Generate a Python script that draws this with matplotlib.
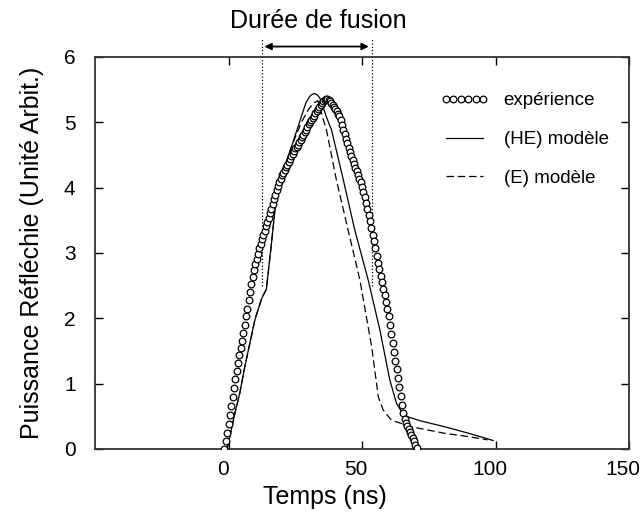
import matplotlib
matplotlib.use("Agg")
import matplotlib.pyplot as plt
import matplotlib.transforms as mtransforms

plt.rcParams["font.family"] = ["Liberation Sans", "DejaVu Sans"]

# experience (mesures, pas de 0.5 ns)
exp_t = [-1.5, -1.0, -0.5, 0.0, 0.5, 1.0, 1.5, 2.0, 2.5, 3.0,
         3.5, 4.0, 4.5, 5.0, 5.5, 6.0, 6.5, 7.0, 7.5, 8.0,
         8.5, 9.0, 9.5, 10.0, 10.5, 11.0, 11.5, 12.0, 12.5, 13.0,
         13.5, 14.0, 14.5, 15.0, 15.5, 16.0, 16.5, 17.0, 17.5, 18.0,
         18.5, 19.0, 19.5, 20.0, 20.5, 21.0, 21.5, 22.0, 22.5, 23.0,
         23.5, 24.0, 24.5, 25.0, 25.5, 26.0, 26.5, 27.0, 27.5, 28.0,
         28.5, 29.0, 29.5, 30.0, 30.5, 31.0, 31.5, 32.0, 32.5, 33.0,
         33.5, 34.0, 34.5, 35.0, 35.5, 36.0, 36.5, 37.0, 37.5, 38.0,
         38.5, 39.0, 39.5, 40.0, 40.5, 41.0, 41.5, 42.0, 42.5, 43.0,
         43.5, 44.0, 44.5, 45.0, 45.5, 46.0, 46.5, 47.0, 47.5, 48.0,
         48.5, 49.0, 49.5, 50.0, 50.5, 51.0, 51.5, 52.0, 52.5, 53.0,
         53.5, 54.0, 54.5, 55.0, 55.5, 56.0, 56.5, 57.0, 57.5, 58.0,
         58.5, 59.0, 59.5, 60.0, 60.5, 61.0, 61.5, 62.0, 62.5, 63.0,
         63.5, 64.0, 64.5, 65.0, 65.5, 66.0, 66.5, 67.0, 67.5, 68.0,
         68.5, 69.0, 69.5, 70.0, 70.5]
exp_p = [0.00, 0.12, 0.25, 0.38, 0.52, 0.66, 0.80, 0.94, 1.07, 1.20,
         1.32, 1.44, 1.55, 1.66, 1.78, 1.90, 2.03, 2.15, 2.28, 2.41,
         2.53, 2.64, 2.74, 2.83, 2.91, 2.99, 3.07, 3.14, 3.21, 3.27,
         3.34, 3.41, 3.47, 3.54, 3.61, 3.68, 3.75, 3.82, 3.89, 3.96,
         4.03, 4.09, 4.14, 4.19, 4.23, 4.27, 4.31, 4.35, 4.39, 4.44,
         4.48, 4.52, 4.56, 4.60, 4.63, 4.66, 4.70, 4.73, 4.77, 4.81,
         4.85, 4.89, 4.93, 4.97, 5.00, 5.04, 5.07, 5.10, 5.14, 5.17,
         5.20, 5.24, 5.27, 5.30, 5.32, 5.34, 5.35, 5.35, 5.34, 5.32,
         5.30, 5.27, 5.24, 5.20, 5.17, 5.13, 5.09, 5.03, 4.96, 4.89,
         4.82, 4.75, 4.68, 4.61, 4.54, 4.48, 4.42, 4.36, 4.30, 4.25,
         4.19, 4.14, 4.08, 4.01, 3.93, 3.85, 3.76, 3.67, 3.58, 3.49,
         3.39, 3.28, 3.18, 3.07, 2.96, 2.85, 2.75, 2.65, 2.55, 2.45,
         2.35, 2.25, 2.14, 2.03, 1.90, 1.76, 1.63, 1.49, 1.35, 1.22,
         1.08, 0.95, 0.81, 0.67, 0.55, 0.46, 0.40, 0.35, 0.31, 0.26,
         0.22, 0.17, 0.12, 0.06, 0.02]

# modele (HE)
he_t = [-0.5, 2.4, 4.2, 6.1, 8.0, 9.9, 12.4, 14.2, 16.1, 18.0, 19.9, 23.6, 27.3, 29.0, 30.3,
        31.3, 32.3, 33.3, 34.2, 35.2, 36.5, 38.6, 43.0, 47.3, 52.3, 56.7, 60.4, 62.9, 65.0,
        67.3, 72.0, 81.0, 90.0, 99.1]
he_p = [0, 0.55, 0.85, 1.26, 1.62, 1.98, 2.3, 2.45, 3.15, 3.9, 4.17, 4.63, 5.09, 5.3, 5.39,
        5.43, 5.44, 5.42, 5.37, 5.27, 5.1, 4.88, 4.12, 3.35, 2.59, 1.82, 1.06, 0.70, 0.56,
        0.49, 0.43, 0.34, 0.24, 0.13]

# modele (E)
e_t = [-0.5, 2.4, 4.2, 6.1, 8.0, 9.9, 12.4, 14.2, 16.1, 18.0, 19.9, 23.6, 27.3, 30.0, 32.0,
       33.5, 34.8, 36.7, 40.4, 44.8, 49.2, 53.6, 56.1, 57.9, 61.0, 68.5, 81.0, 89.8, 97.0]
e_p = [0, 0.55, 0.85, 1.26, 1.62, 1.98, 2.3, 2.45, 3.15, 3.9, 4.17, 4.63, 5.0, 5.2, 5.3,
       5.33, 5.14, 4.88, 4.12, 3.35, 2.59, 1.57, 0.80, 0.60, 0.44, 0.34, 0.24, 0.19, 0.14]

fusion_debut, fusion_fin = 12.4, 53.6

fig = plt.figure(figsize=(6.41, 5.21), dpi=100)
ax = fig.add_axes([0.1482, 0.1382, 0.8331, 0.7524])

ax.plot(exp_t, exp_p, linestyle="none", marker="o", markersize=4.8, markerfacecolor="white",
        markeredgecolor="black", markeredgewidth=0.9, label="expérience", zorder=3)
ax.plot(he_t, he_p, color="black", lw=0.9, label="(HE) modèle")
ax.plot(e_t, e_p, color="black", lw=0.9, dashes=(6, 3), label="(E) modèle")

# duree de fusion
for xv in (fusion_debut, fusion_fin):
    ax.plot([xv, xv], [2.5, 6.27], color="black", lw=0.9, linestyle=":", clip_on=False)
ax.annotate("", xy=(fusion_debut, 6.16), xytext=(fusion_fin, 6.16),
            arrowprops=dict(arrowstyle="<|-|>", color="black", lw=1.3, mutation_scale=10),
            annotation_clip=False)
ax.text((fusion_debut + fusion_fin) / 2 + 0.7, 6.55, "Durée de fusion", ha="center",
        va="center", fontsize=18)

ax.set_xlim(-50, 150)
ax.set_ylim(0, 6)
ax.set_xticks([0, 50, 100, 150])
ax.set_yticks([0, 1, 2, 3, 4, 5, 6])
ax.tick_params(direction="in", top=True, right=True, length=6, width=1, labelsize=15)
ax.tick_params(axis="x", pad=8)
ax.tick_params(axis="y", pad=14)
for s in ax.spines.values():
    s.set_linewidth(1.3)
    s.set_color("#333333")

# les etiquettes x sont un peu decalees vers la gauche
decal = mtransforms.ScaledTranslation(-0.06, 0, fig.dpi_scale_trans)
for lab in ax.get_xticklabels():
    lab.set_transform(lab.get_transform() + decal)

ax.set_xlabel("Temps (ns)", fontsize=18)
ax.xaxis.set_label_coords(0.43, -0.092)
ax.set_ylabel("Puissance Réfléchie (Unité Arbit.)", fontsize=18)
ax.yaxis.set_label_coords(-0.096, 0.5)

ax.legend(loc="upper left", bbox_to_anchor=(0.646, 0.91), frameon=False, fontsize=13.5,
          numpoints=6, handlelength=2.6, handletextpad=0.8, labelspacing=1.15,
          borderpad=0, borderaxespad=0)

fig.savefig("out.png", dpi=100)
